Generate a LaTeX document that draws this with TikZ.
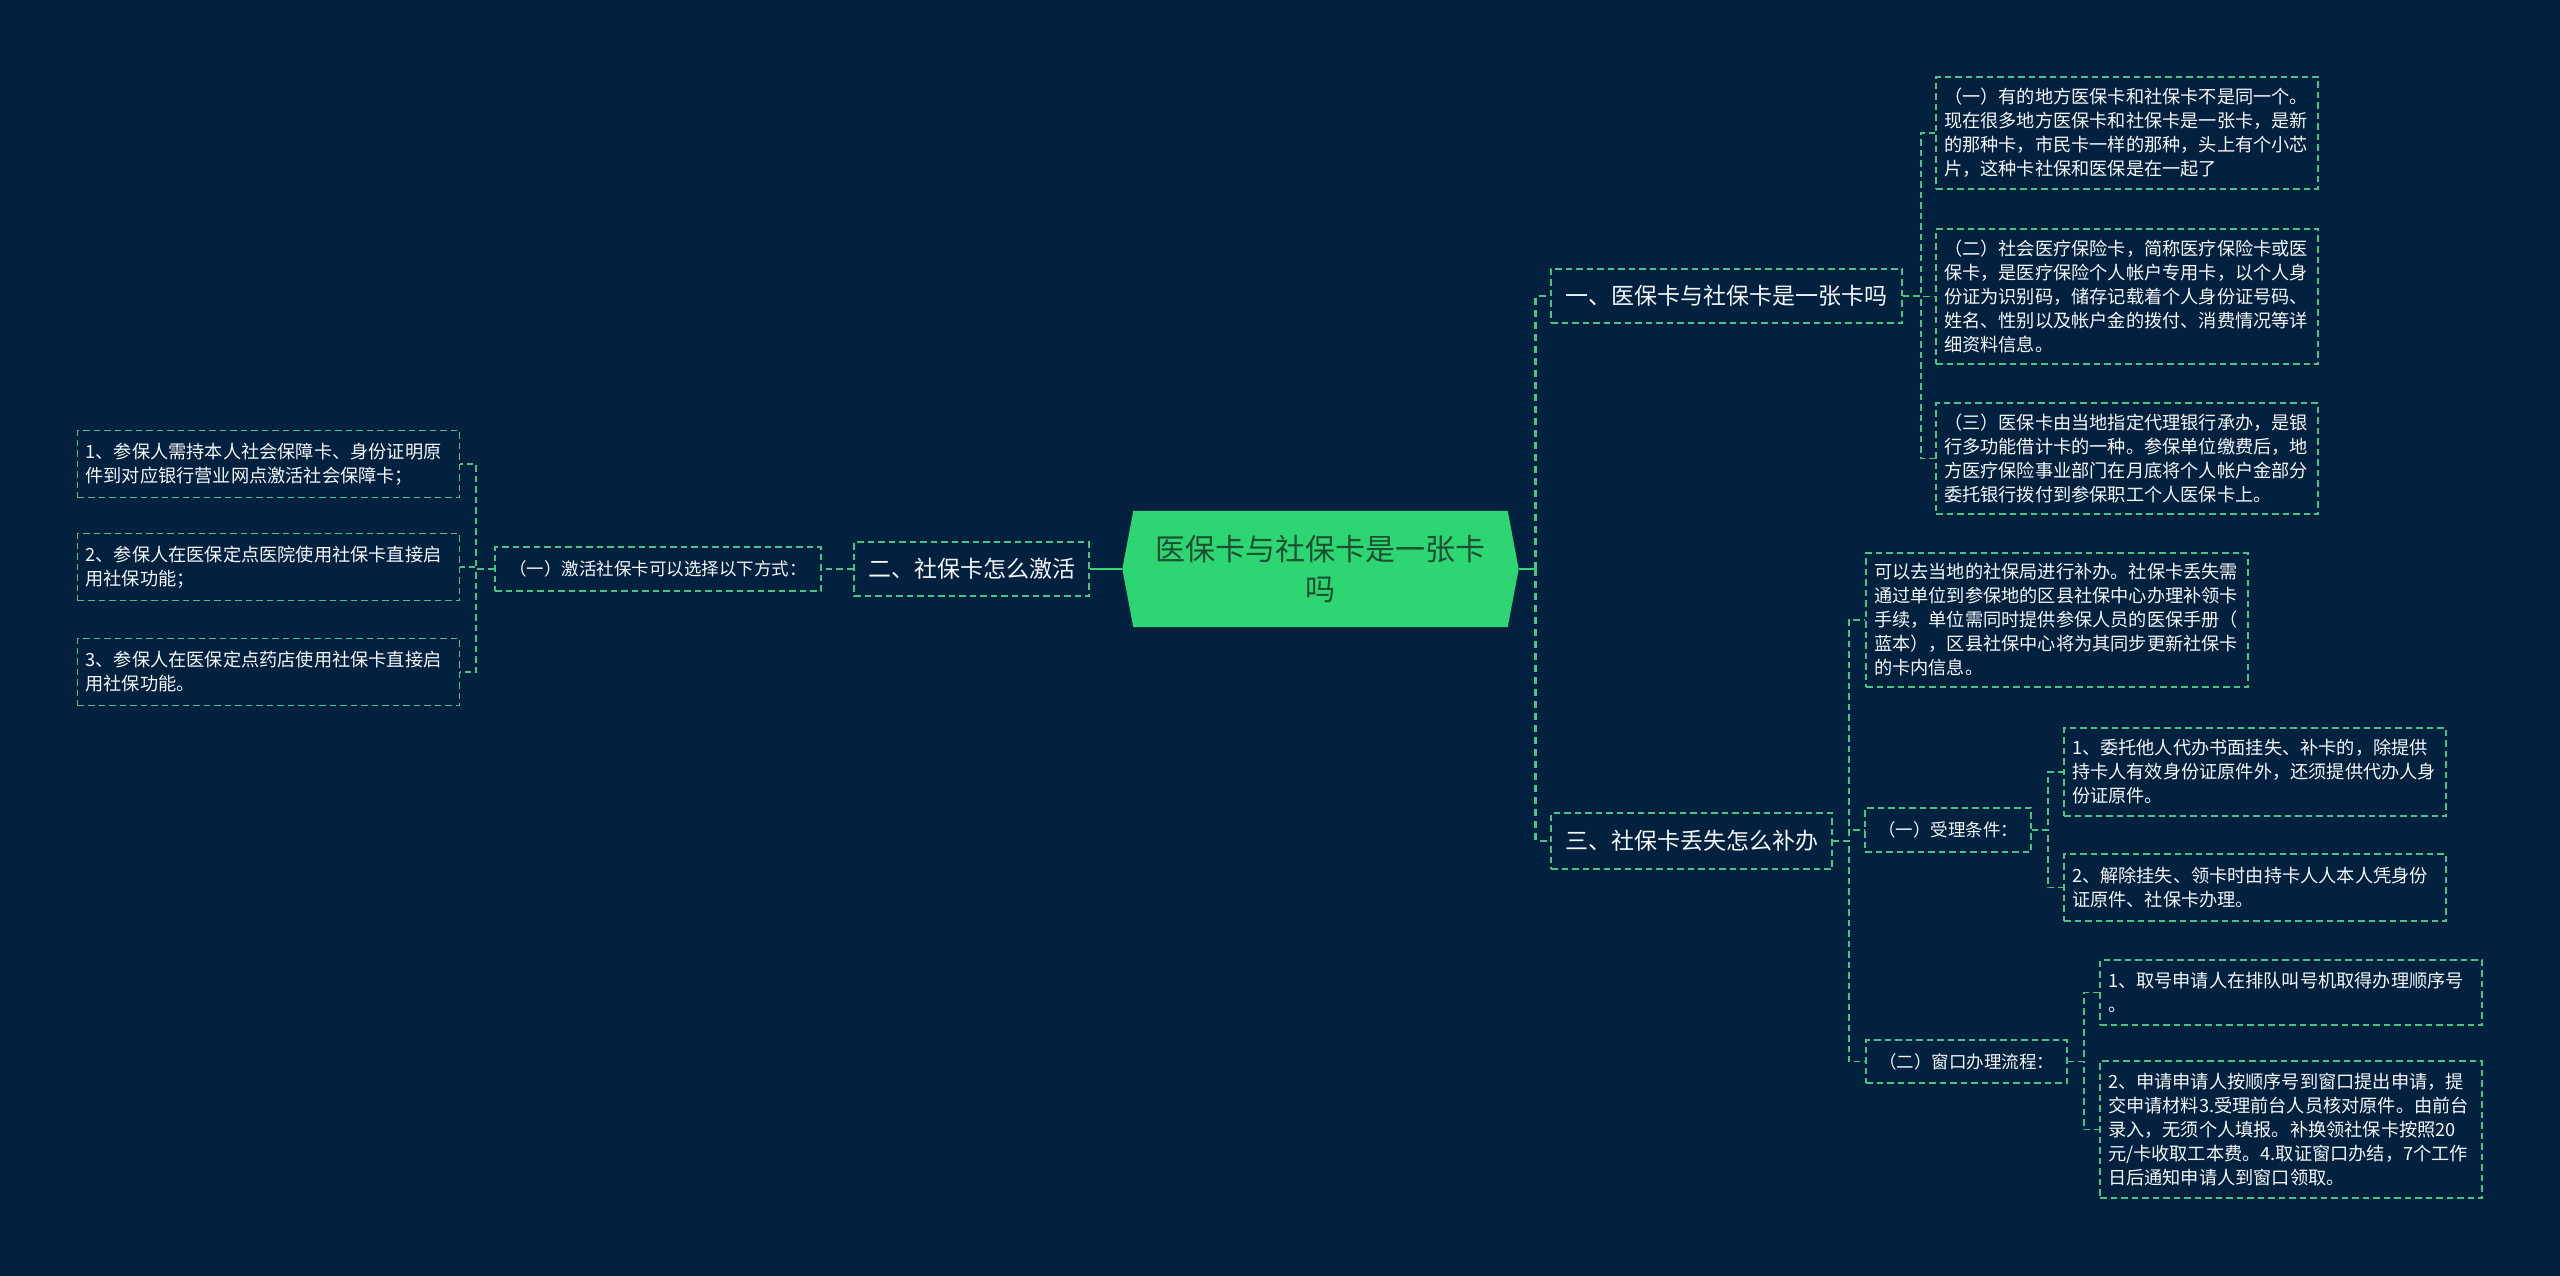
\documentclass[tikz,border=0pt]{standalone}
\usepackage{fontspec}
\newfontfamily\cjk{Noto Sans CJK SC}
\usetikzlibrary{calc,backgrounds}
\definecolor{bg}{RGB}{2,33,62}
\definecolor{hexg}{RGB}{46,213,115}
\definecolor{hext}{RGB}{28,78,48}
\definecolor{lineg}{RGB}{70,196,128}
\definecolor{txt}{RGB}{244,247,250}
\begin{document}
\begin{tikzpicture}[x=1pt,y=-1pt,
 conn/.style={draw=lineg, line width=1.7pt, dash pattern=on 6.5pt off 4pt},
 trunk/.style={draw=lineg, line width=2.6pt, dash pattern=on 7pt off 5pt},
 solidconn/.style={draw=hexg, line width=2.4pt},
 box/.style={draw=lineg, line width=1.7pt, dash pattern=on 6.5pt off 4pt, text=txt, inner ysep=0pt},
 lvl1/.style={box, inner xsep=0pt, align=center, font=\cjk\fontsize{23}{28}\selectfont},
 mid/.style={box, inner xsep=0pt, align=center, font=\cjk\fontsize{17.5}{22}\selectfont},
 leaf/.style={box, inner xsep=8pt, text width=366pt, minimum width=382pt, align=left, font=\cjk\fontsize{18.2}{24}\selectfont},
]
\useasboundingbox (0,0) rectangle (2560,1276);

% central node
\node[font=\cjk\fontsize{30}{40}\selectfont, text=hext, align=center, minimum width=396pt, minimum height=116pt, inner sep=0pt] (c) at (1320.5,569) {医保卡与社保卡是一张卡\\吗};

% left branch
\node[lvl1, minimum width=235pt, minimum height=54pt] (L2) at (971.5,569) {二、社保卡怎么激活};
\node[mid, minimum width=326pt, minimum height=44pt] (act) at (658,569) {（一）激活社保卡可以选择以下方式：};
\node[leaf, minimum height=67pt] (la) at (268.5,464) {1、参保人需持本人社会保障卡、身份证明原\\件到对应银行营业网点激活社会保障卡；};
\node[leaf, minimum height=67pt] (lb) at (268.5,567) {2、参保人在医保定点医院使用社保卡直接启\\用社保功能；};
\node[leaf, minimum height=67pt] (lc) at (268.5,672) {3、参保人在医保定点药店使用社保卡直接启\\用社保功能。};

% right branch
\node[lvl1, minimum width=351pt, minimum height=54pt] (R1) at (1726.5,296) {一、医保卡与社保卡是一张卡吗};
\node[lvl1, minimum width=281pt, minimum height=56pt] (R3) at (1691.5,841) {三、社保卡丢失怎么补办};

\node[leaf, minimum height=112pt] (ra) at (2127,133) {（一）有的地方医保卡和社保卡不是同一个。\\现在很多地方医保卡和社保卡是一张卡，是新\\的那种卡，市民卡一样的那种，头上有个小芯\\片，这种卡社保和医保是在一起了};
\node[leaf, minimum height=135pt] (rb) at (2127,296.5) {（二）社会医疗保险卡，简称医疗保险卡或医\\保卡，是医疗保险个人帐户专用卡，以个人身\\份证为识别码，储存记载着个人身份证号码、\\姓名、性别以及帐户金的拨付、消费情况等详\\细资料信息。};
\node[leaf, minimum height=111pt] (rc) at (2127,458.5) {（三）医保卡由当地指定代理银行承办，是银\\行多功能借计卡的一种。参保单位缴费后，地\\方医疗保险事业部门在月底将个人帐户金部分\\委托银行拨付到参保职工个人医保卡上。};

\node[leaf, minimum height=134pt] (rd) at (2057,620) {可以去当地的社保局进行补办。社保卡丢失需\\通过单位到参保地的区县社保中心办理补领卡\\手续，单位需同时提供参保人员的医保手册（\\蓝本），区县社保中心将为其同步更新社保卡\\的卡内信息。};
\node[mid, minimum width=166pt, minimum height=44pt] (re) at (1948,830) {（一）受理条件：};
\node[mid, minimum width=201pt, minimum height=43pt] (rf) at (1966.5,1061.5) {（二）窗口办理流程：};

\node[leaf, minimum height=88pt] (rg) at (2255,772) {1、委托他人代办书面挂失、补卡的，除提供\\持卡人有效身份证原件外，还须提供代办人身\\份证原件。};
\node[leaf, minimum height=67pt] (rh) at (2255,887.5) {2、解除挂失、领卡时由持卡人人本人凭身份\\证原件、社保卡办理。};
\node[leaf, minimum height=65pt] (ri) at (2291,992.5) {1、取号申请人在排队叫号机取得办理顺序号\\。};
\node[leaf, minimum height=137pt] (rj) at (2291,1129.5) {2、申请申请人按顺序号到窗口提出申请，提\\交申请材料3.受理前台人员核对原件。由前台\\录入，无须个人填报。补换领社保卡按照20\\元/卡收取工本费。4.取证窗口办结，7个工作\\日后通知申请人到窗口领取。};

% background and hexagon
\begin{scope}[on background layer]
\fill[bg] (0,0) rectangle (2560,1276);
\fill[hexg] (c.west) -- ($(c.north west)+(11,0)$) -- ($(c.north east)+(-11,0)$) -- (c.east) -- ($(c.south east)+(-11,0)$) -- ($(c.south west)+(11,0)$) -- cycle;
\end{scope}

% connectors left
\draw[solidconn] (c.west) -- (L2.east);
\draw[conn] (L2.west) -- (act.east);
\draw[conn] (act.west) -- ++(-18,0) |- (la.east);
\draw[conn] (act.west) -- ++(-18,0) |- (lb.east);
\draw[conn] (act.west) -- ++(-18,0) |- (lc.east);

% connectors right
\coordinate (rs) at ($(c.east)+(17,0)$);
\draw[solidconn] (c.east) -- (rs);
\draw[trunk] (rs) |- (R1.west);
\draw[trunk] (rs) |- (R3.west);
\draw[conn] (R1.east) -- ++(18,0) |- (ra.west);
\draw[conn] (R1.east) -- ++(18,0) |- (rb.west);
\draw[conn] (R1.east) -- ++(18,0) |- (rc.west);
\draw[conn] (R3.east) -- ++(16,0) |- (rd.west);
\draw[conn] (R3.east) -- ++(16,0) |- (re.west);
\draw[conn] (R3.east) -- ++(16,0) |- (rf.west);
\draw[conn] (re.east) -- ++(16,0) |- (rg.west);
\draw[conn] (re.east) -- ++(16,0) |- (rh.west);
\draw[conn] (rf.east) -- ++(16,0) |- (ri.west);
\draw[conn] (rf.east) -- ++(16,0) |- (rj.west);
\end{tikzpicture}
\end{document}
